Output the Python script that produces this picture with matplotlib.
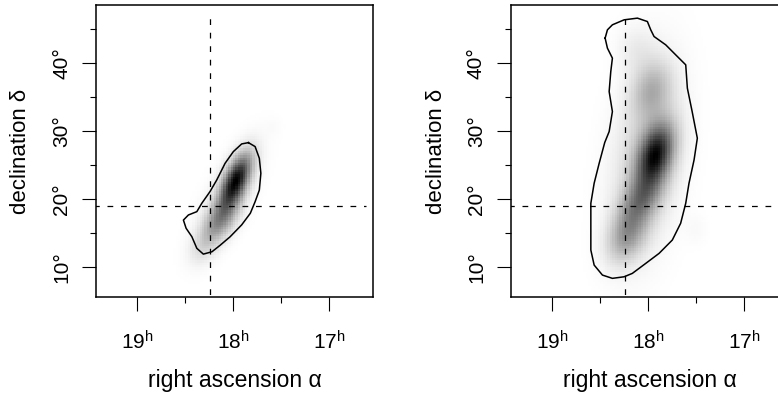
import numpy as np
import matplotlib
matplotlib.use("Agg")
import matplotlib.pyplot as plt
from matplotlib.ticker import FixedLocator

plt.rcParams["font.family"] = ["Liberation Sans", "DejaVu Sans"]
plt.rcParams["mathtext.fontset"] = "custom"
plt.rcParams["mathtext.rm"] = "Liberation Sans"
plt.rcParams["mathtext.it"] = "Liberation Sans:italic"

# reference position (RA in hours, Dec in degrees)
ref_ra = 18.24
ref_dec = 19.0

# axis ticks
ra_major = [19, 18, 17]
ra_major_labels = [r"$19^{\mathrm{h}}$", r"$18^{\mathrm{h}}$", r"$17^{\mathrm{h}}$"]
ra_minor = [18.5, 17.5]
dec_major = [10, 20, 30, 40]
dec_major_labels = ["10°", "20°", "30°", "40°"]
dec_minor = [15, 25, 35, 45]

# posterior density components, left panel:
# centre RA, centre Dec, sigma RA, sigma Dec, correlation, weight
left_ra = [17.97, 18.13, 18.32, 17.58, 18.05]
left_dec = [22.7, 17.0, 12.8, 30.6, 20.5]
left_sra = [0.11, 0.13, 0.10, 0.06, 0.22]
left_sdec = [2.6, 2.4, 1.8, 1.0, 5.0]
left_rho = [-0.6, -0.55, -0.3, 0.0, -0.7]
left_w = [1.0, 0.45, 0.10, 0.015, 0.08]

# posterior density components, right panel
right_ra = [17.92, 18.07, 18.22, 17.96, 18.12, 18.02, 17.50]
right_dec = [26.6, 20.0, 14.5, 36.0, 42.0, 26.0, 15.5]
right_sra = [0.13, 0.15, 0.14, 0.14, 0.14, 0.24, 0.08]
right_sdec = [3.0, 2.8, 2.6, 2.8, 2.4, 9.0, 1.5]
right_rho = [-0.35, -0.45, -0.3, -0.2, 0.0, -0.3, 0.0]
right_w = [1.0, 0.50, 0.40, 0.30, 0.08, 0.22, 0.03]

# 90% credible region outlines
left_contour_ra = [17.84, 17.77, 17.726, 17.71, 17.726, 17.77, 17.82, 17.91, 18.03,
                   18.135, 18.22, 18.31, 18.378, 18.43, 18.49, 18.518, 18.466,
                   18.378, 18.326, 18.24, 18.17, 18.083, 17.997, 17.91]
left_contour_dec = [28.28, 27.7, 25.98, 23.78, 21.3, 19.6, 17.9, 16.2, 14.46,
                    13.2, 12.25, 11.9, 12.75, 14.46, 15.7, 16.9, 17.65,
                    18.14, 19.37, 21.1, 22.8, 25.25, 26.96, 28.09]

right_contour_ra = [18.448, 18.424, 18.372, 18.25, 18.111, 18.007, 17.972, 17.9375,
                    17.816, 17.677, 17.607, 17.59, 17.54, 17.486, 17.52, 17.573,
                    17.607, 17.66, 17.747, 17.885, 18.024, 18.164, 18.25, 18.372,
                    18.476, 18.5625, 18.597, 18.597, 18.597, 18.5625, 18.51,
                    18.452, 18.406, 18.372, 18.406, 18.389, 18.372, 18.424]
right_contour_dec = [43.63, 44.85, 45.59, 46.32, 46.57, 46.07, 44.85, 43.87,
                     42.65, 40.69, 39.71, 36.28, 32.84, 28.93, 25.74, 22.31,
                     19.37, 16.43, 13.97, 12.01, 10.54, 9.07, 8.57, 8.34,
                     8.82, 10.29, 12.5, 16.43, 19.37, 22.31, 25.25,
                     28.3, 29.9, 32.84, 35.78, 38.72, 40.69, 42.16]

RA_LIM = (19.43, 16.54)
DEC_LIM = (5.6, 48.5)

ra_edges = np.arange(16.4, 19.6001, 0.025)
dec_edges = np.arange(4.0, 50.001, 0.35)
ra_c = 0.5 * (ra_edges[:-1] + ra_edges[1:])
dec_c = 0.5 * (dec_edges[:-1] + dec_edges[1:])
RA, DEC = np.meshgrid(ra_c, dec_c)


def density(cra, cdec, sra, sdec, rho, w):
    z = np.zeros_like(RA)
    for a, d, sa, sd, r, wt in zip(cra, cdec, sra, sdec, rho, w):
        u = (RA - a) / sa
        v = (DEC - d) / sd
        q = (u * u - 2 * r * u * v + v * v) / (1 - r * r)
        z += wt * np.exp(-0.5 * q)
    return z / z.max()


fig = plt.figure(figsize=(7.78, 3.97), dpi=100)
ax_w = 277 / 778
ax_h = 292 / 397
ax_b = 1 - 297 / 397
axes = [fig.add_axes([96 / 778, ax_b, ax_w, ax_h]),
        fig.add_axes([511 / 778, ax_b, ax_w, ax_h])]

panels = [
    (left_ra, left_dec, left_sra, left_sdec, left_rho, left_w,
     left_contour_ra, left_contour_dec),
    (right_ra, right_dec, right_sra, right_sdec, right_rho, right_w,
     right_contour_ra, right_contour_dec),
]

for ax, (cra, cdec, sra, sdec, rho, w, cr, cd) in zip(axes, panels):
    z = density(cra, cdec, sra, sdec, rho, w)
    ax.pcolormesh(ra_edges, dec_edges, z, cmap="gray_r", vmin=0, vmax=1,
                  shading="flat", zorder=1)
    ax.plot(list(cr) + [cr[0]], list(cd) + [cd[0]], color="black", lw=1.1,
            solid_joinstyle="round", zorder=3)
    dash = (0, (4.6, 6.2))
    ax.plot([19.6, 16.61], [ref_dec, ref_dec], color="black", lw=0.9,
            linestyle=dash, zorder=4)
    ax.plot([ref_ra, ref_ra], [4.0, 47.3], color="black", lw=0.9,
            linestyle=dash, zorder=4)

    ax.set_xlim(*RA_LIM)
    ax.set_ylim(*DEC_LIM)
    ax.xaxis.set_major_locator(FixedLocator(ra_major))
    ax.set_xticklabels(ra_major_labels)
    ax.xaxis.set_minor_locator(FixedLocator(ra_minor))
    ax.yaxis.set_major_locator(FixedLocator(dec_major))
    ax.set_yticklabels(dec_major_labels, rotation=90, va="center")
    ax.yaxis.set_minor_locator(FixedLocator(dec_minor))

    ax.tick_params(which="major", length=10, width=0.8, labelsize=15, color="black")
    ax.tick_params(which="minor", length=4.5, width=0.8)
    ax.tick_params(axis="x", which="major", pad=14)
    ax.tick_params(axis="y", which="major", pad=8)
    for s in ax.spines.values():
        s.set_linewidth(1.1)

    ax.set_xlabel("right ascension α", fontsize=16.5, va="center")
    ax.xaxis.set_label_coords(0.5, (297 - 381) / 292)
    ax.set_ylabel("declination δ", fontsize=16, va="center")
    ax.yaxis.set_label_coords(-75 / 277, 0.5)

fig.savefig("out.png", dpi=100)
